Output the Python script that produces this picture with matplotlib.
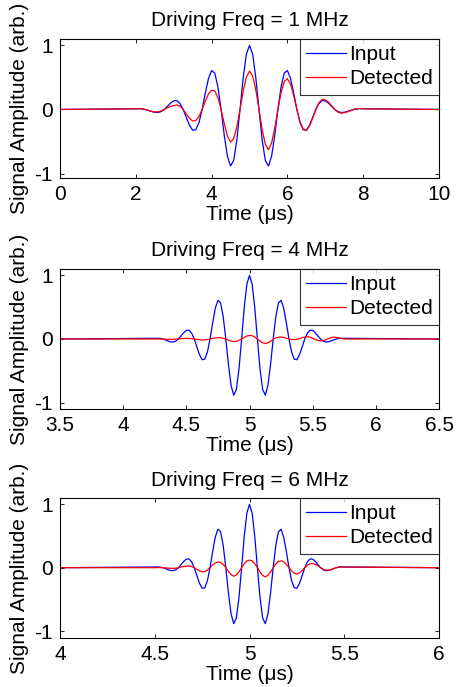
import numpy as np
import matplotlib
matplotlib.use("Agg")
import matplotlib.pyplot as plt

plt.rcParams['font.family'] = ['Liberation Sans', 'DejaVu Sans']

# ---------------- data ----------------
titles = ["Driving Freq = 1 MHz", "Driving Freq = 4 MHz", "Driving Freq = 6 MHz"]
freqs_mhz = [1, 4, 6]
burst_center_us = 5.0
samples_per_period = 12
series_labels = ["Input", "Detected"]
x_limits = [(0, 10), (3.5, 6.5), (4, 6)]
x_ticks = [[0, 2, 4, 6, 8, 10],
           [3.5, 4, 4.5, 5, 5.5, 6, 6.5],
           [4, 4.5, 5, 5.5, 6]]
x_tick_labels = [["0", "2", "4", "6", "8", "10"],
                 ["3.5", "4", "4.5", "5", "5.5", "6", "6.5"],
                 ["4", "4.5", "5", "5.5", "6"]]
y_ticks = [-1, 0, 1]
y_limits = [(-1.07, 1.10), (-1.10, 1.10), (-1.11, 1.10)]

# input burst (same shape for all drives, sampled 12 points per period, -3..+3 periods)
input_burst = [
    .011, .012, .009, 0, -.014, -.031, -.044, -.047, -.033, 0, .048, .099,
    .135, .138, .093, 0, -.125, -.247, -.325, -.317, -.206, 0, .253, .482,
    .607, .569, .353, 0, -.400, -.730, -.883, -.794, -.473, 0, .493, .863,
    1.000, .863, .493, 0, -.473, -.794, -.883, -.730, -.400, 0, .353, .569,
    .607, .482, .253, 0, -.206, -.317, -.325, -.247, -.125, 0, .093, .138,
    .135, .099, .048, 0, -.033, -.047, -.044, -.031, -.014, 0, .009, .012, .011]

detected_1mhz = [
    .010, .013, .010, 0, -.015, -.030, -.040, -.037, -.024, 0, .027, .049,
    .060, .069, .050, 0, -.070, -.139, -.180, -.173, -.110, 0, .130, .242,
    .300, .290, .185, 0, -.220, -.411, -.510, -.455, -.270, 0, .285, .507,
    .600, .524, .305, 0, -.310, -.541, -.630, -.524, -.290, 0, .265, .437,
    .480, .394, .215, 0, -.190, -.307, -.330, -.260, -.135, 0, .105, .156,
    .150, .115, .059, 0, -.042, -.058, -.050, -.037, -.019, 0, .012, .015, .010]

detected_4mhz = [
    0, 0, 0, 0, -.002, -.004, -.005, -.004, -.002, 0, .005, .008,
    .010, .009, .005, 0, -.007, -.012, -.015, -.014, -.008, 0, .010, .017,
    .020, .020, .012, 0, -.018, -.033, -.040, -.038, -.022, 0, .026, .047,
    .055, .052, .030, 0, -.033, -.060, -.070, -.060, -.035, -.005, .018, .028,
    .030, .025, .012, 0, -.008, -.010, -.006, .005, .020, .033, .035, .028,
    .012, -.008, -.022, -.030, -.025, -.010, .008, .022, .030, .025, .015, .007, 0]

detected_6mhz = [
    0, .001, .002, 0, -.003, -.007, -.010, -.011, -.008, 0, .010, .019,
    .025, .027, .019, 0, -.026, -.050, -.065, -.060, -.037, 0, .041, .074,
    .090, .084, .053, 0, -.060, -.110, -.135, -.115, -.065, 0, .063, .106,
    .120, .107, .064, 0, -.068, -.122, -.145, -.120, -.066, 0, .060, .098,
    .107, .092, .052, 0, -.051, -.087, -.100, -.082, -.044, 0, .039, .062,
    .066, .054, .029, 0, -.024, -.038, -.040, -.030, -.015, 0, .010, .013, .010]

detected = [detected_1mhz, detected_4mhz, detected_6mhz]

# ---------------- figure ----------------
fig = plt.figure(figsize=(4.57, 6.87), dpi=100)
left, width = 60 / 457, 379 / 457
bottoms = [1 - 178 / 687, 1 - 409 / 687, 1 - 638 / 687]
heights = [139 / 687, 140 / 687, 140 / 687]
FS = 15

sample_index = np.arange(len(input_burst)) - (len(input_burst) - 1) // 2

for i in range(3):
    ax = fig.add_axes([left, bottoms[i], width, heights[i]])
    x0, x1 = x_limits[i]
    t = burst_center_us + sample_index / (samples_per_period * freqs_mhz[i])
    t_full = np.concatenate([[x0], t, [x1]])
    inp = np.concatenate([[0.0], input_burst, [0.0]])
    det = np.concatenate([[0.0], detected[i], [0.0]])
    ax.plot(t_full, inp, color=(0, 0, 1), lw=0.9, label=series_labels[0],
            solid_joinstyle='round')
    ax.plot(t_full, det, color=(1, 0, 0), lw=0.9, label=series_labels[1],
            solid_joinstyle='round')
    ax.set_xlim(x0, x1)
    ax.set_ylim(*y_limits[i])
    ax.set_xticks(x_ticks[i])
    ax.set_xticklabels(x_tick_labels[i])
    ax.set_yticks(y_ticks)
    ax.set_yticklabels([str(v) for v in y_ticks])
    ax.tick_params(direction='in', length=3, width=0.6, top=True, right=True,
                   labelsize=FS, pad=5)
    for sp in ax.spines.values():
        sp.set_linewidth(0.8)
        sp.set_color('black')
    ax.set_title(titles[i], fontsize=FS, pad=9)
    ax.set_xlabel("Time (μs)", fontsize=FS, labelpad=1)
    ax.set_ylabel("Signal Amplitude (arb.)", fontsize=FS, labelpad=4)
    leg = ax.legend(loc='upper right', fontsize=FS, frameon=True, fancybox=False,
                    borderaxespad=0, handlelength=1.9, handletextpad=0.15,
                    labelspacing=0.25, borderpad=0.3)
    leg.get_frame().set_edgecolor('black')
    leg.get_frame().set_linewidth(0.8)

fig.savefig("out.png", dpi=100)
